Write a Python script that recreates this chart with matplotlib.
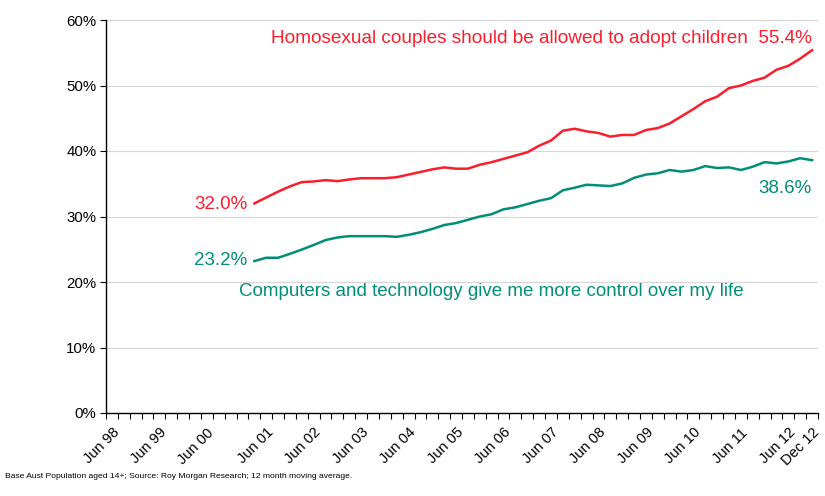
import numpy as np
import matplotlib
matplotlib.use('Agg')
import matplotlib.pyplot as plt
from matplotlib.ticker import FuncFormatter

plt.rcParams['font.family'] = ['Liberation Sans', 'DejaVu Sans']

# 60 quarterly categories, Jun 98 .. Dec 12; only some carry a label
n_cats = 60
label_pos = [0, 4, 8, 13, 17, 21, 25, 29, 33, 37, 41, 45, 49, 53, 57, 59]
label_txt = ['Jun 98', 'Jun 99', 'Jun 00', 'Jun 01', 'Jun 02', 'Jun 03', 'Jun 04',
             'Jun 05', 'Jun 06', 'Jun 07', 'Jun 08', 'Jun 09', 'Jun 10', 'Jun 11',
             'Jun 12', 'Dec 12']

start = 12  # first category with data
adopt = [32.0, 32.9, 33.8, 34.6, 35.25, 35.35, 35.55, 35.4, 35.65, 35.85, 35.85, 35.85,
         36.0, 36.4, 36.8, 37.2, 37.5, 37.3, 37.3, 37.9, 38.3, 38.8, 39.3, 39.8,
         40.8, 41.6, 43.1, 43.4, 43.0, 42.75, 42.2, 42.45, 42.45, 43.2, 43.5, 44.2,
         45.3, 46.4, 47.6, 48.3, 49.6, 50.0, 50.7, 51.2, 52.4, 53.0, 54.1, 55.4]
tech = [23.2, 23.7, 23.7, 24.3, 24.95, 25.65, 26.4, 26.8, 27.0, 27.0, 27.0, 27.0,
        26.9, 27.2, 27.6, 28.1, 28.7, 29.0, 29.5, 30.0, 30.35, 31.1, 31.4, 31.9,
        32.4, 32.8, 34.0, 34.4, 34.85, 34.75, 34.65, 35.05, 35.9, 36.4, 36.6, 37.1,
        36.85, 37.1, 37.7, 37.4, 37.5, 37.1, 37.6, 38.3, 38.1, 38.4, 38.9, 38.6]

red = '#FA1E2D'
green = '#008E78'

fig = plt.figure(figsize=(8.25, 4.96), dpi=100)
ax = fig.add_axes([106 / 825, 1 - 413 / 496, 712 / 825, 393 / 496])

x = np.arange(start, start + len(adopt))
ax.plot(x, adopt, color=red, lw=1.8, solid_joinstyle='round')
ax.plot(x, tech, color=green, lw=1.8, solid_joinstyle='round')

ax.set_xlim(-0.5, n_cats - 0.5)
ax.set_ylim(0, 60)
ax.set_yticks(range(0, 61, 10))
ax.yaxis.set_major_formatter(FuncFormatter(lambda v, p: f'{v:.0f}%'))
ax.grid(axis='y', color='#D6D6D6', lw=0.8)
ax.set_axisbelow(True)

for s in ['top', 'right']:
    ax.spines[s].set_visible(False)
ax.spines['left'].set_linewidth(1.0)
ax.spines['bottom'].set_linewidth(1.0)

ax.tick_params(axis='y', length=4, width=0.8, labelsize=10.8, pad=3, colors='black')

# tick marks between categories, labels under chosen categories
ax.set_xticks(np.arange(-0.5, n_cats, 1.0), minor=True)
ax.tick_params(axis='x', which='minor', length=4, width=0.8, direction='out')
ax.set_xticks(label_pos)
ax.set_xticklabels(label_txt, rotation=45, ha='right', rotation_mode='anchor')
ax.tick_params(axis='x', which='major', length=0, labelsize=10.5, pad=9)

fs = 13.5
ax.text(start + len(adopt) - 1, 57.25, 'Homosexual couples should be allowed to adopt children  55.4%',
        color=red, fontsize=13.7, ha='right', va='center')
ax.text(start - 0.6, 31.8, f'{adopt[0]:.1f}%', color=red, fontsize=fs, ha='right', va='center')
ax.text(start - 0.6, 23.3, f'{tech[0]:.1f}%', color=green, fontsize=fs, ha='right', va='center')
ax.text(start + len(tech) - 1, 34.35, f'{tech[-1]:.1f}%', color=green, fontsize=fs,
        ha='right', va='center')
ax.text(10.7, 18.5, 'Computers and technology give me more control over my life',
        color=green, fontsize=fs, ha='left', va='center')

fig.text(5 / 825, 1 - 477 / 496, 'Base Aust Population aged 14+; Source: Roy Morgan Research; 12 month moving average.',
         fontsize=6.1, ha='left', va='center')

fig.savefig('out.png', dpi=100)
